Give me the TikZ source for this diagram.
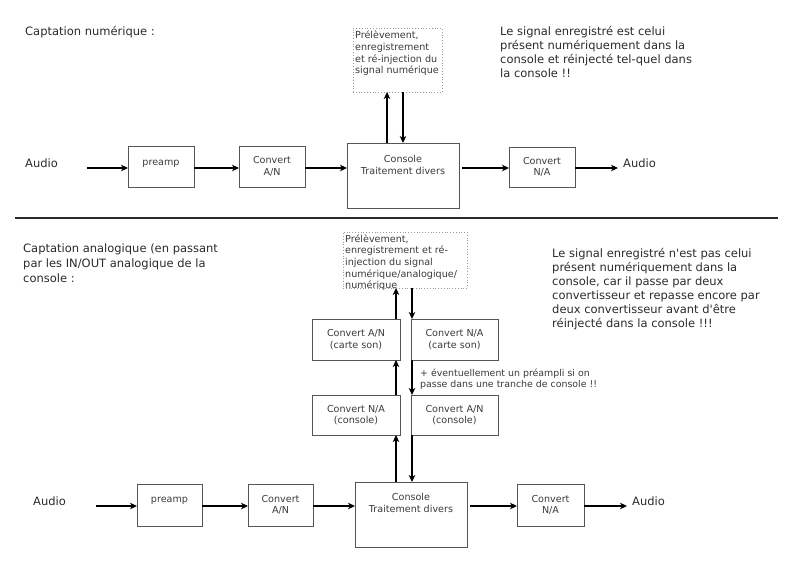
\documentclass[tikz,border=0pt]{standalone}
\usepackage{fontspec}
\setmainfont{DejaVu Sans}[Ligatures=TeXOff]
\usetikzlibrary{arrows.meta,calc}
\definecolor{boxgray}{HTML}{555555}
\definecolor{txtgray}{HTML}{3A3A3A}
\definecolor{txtdark}{HTML}{2A2A2A}
\definecolor{dotgray}{HTML}{9A9A9A}
\begin{document}
\begin{tikzpicture}[x=1pt,y=-1pt,
  box/.style={draw=boxgray, line width=0.9pt, inner sep=0pt, outer sep=0pt,
    font=\fontsize{9.6}{11.5}\selectfont, text=txtgray, align=center},
  dotbox/.style={draw=dotgray, dotted, line width=0.8pt, inner sep=0pt, outer sep=0pt},
  boxtxt/.style={font=\fontsize{9.6}{11.7}\selectfont, text=txtgray, inner sep=0pt},
  bigtxt/.style={font=\fontsize{11.5}{14}\selectfont, text=txtdark, align=left, inner sep=0pt, anchor=north west},
  arr/.style={-{Stealth[length=7pt,width=6.5pt,inset=2pt]}, line width=1.4pt, black},
  sepline/.style={line width=1.8pt, draw=txtdark}
]
\useasboundingbox (0,0) rectangle (800,566);

% ---------------- top section ----------------
\node[bigtxt] (t1) at (25,25.8) {Captation numérique :};
\node[bigtxt] (r1) at (500,25.8) {Le signal enregistré est celui\\présent numériquement dans la\\console et réinjecté tel-quel dans\\la console !!};

\node[dotbox, minimum width=89pt, minimum height=64pt] (rec1) at (397.5,60) {};
\node[boxtxt, align=left, anchor=north west] (rec1t) at (355,30.9) {Prélèvement,\\enregistrement\\et ré-injection du\\signal numérique};

\node[bigtxt, anchor=base west] (ain1) at (25,167) {Audio};
\coordinate (in1) at (87,168);
\node[box, minimum width=66pt, minimum height=41pt] (pre1) at (161,166.5) {};
\node[boxtxt, anchor=base] (pre1t) at (161,165) {preamp};
\node[box, minimum width=66pt, minimum height=41pt] (cana1) at (272,166.5) {Convert\\A/N};
\node[box, minimum width=112pt, minimum height=65pt] (cons1) at (403,175.5) {};
\node[boxtxt, align=center, anchor=north] (cons1t) at (403,155.4) {Console\\Traitement divers};
\node[box, minimum width=66pt, minimum height=40pt] (cna1) at (542,167) {Convert\\N/A};
\node[bigtxt, anchor=base west] (aout1) at (623,167) {Audio};

\draw[arr] (in1) -- (in1 -| pre1.west);
\draw[arr] (pre1.east |- in1) -- (cana1.west |- in1);
\draw[arr] (cana1.east |- in1) -- (cons1.west |- in1);
\draw[arr, shorten <=3pt] (cons1.east |- in1) -- (cna1.west |- in1);
\draw[arr] (cna1.east |- in1) -- ([xshift=-5pt]aout1.west |- in1);

\coordinate (xu1) at (387,0);
\coordinate (xd1) at (403,0);
\draw[arr] (cons1.north -| xu1) -- (rec1.south -| xu1);
\draw[arr] (rec1.south -| xd1) -- (cons1.north -| xd1);

% separator
\coordinate (s1) at (15,218);
\coordinate (s2) at (778,218);
\draw[sepline] (s1) -- (s2);

% ---------------- bottom section ----------------
\node[bigtxt, font=\fontsize{11.5}{15}\selectfont] (t2) at (23,243.3) {Captation analogique (en passant\\par les IN/OUT analogique de la\\console :};
\node[bigtxt] (r2) at (552,247.8) {Le signal enregistré n'est pas celui\\présent numériquement dans la\\console, car il passe par deux\\convertisseur et repasse encore par\\deux convertisseur avant d'être\\réinjecté dans la console !!!};

\node[dotbox, minimum width=124pt, minimum height=56pt] (rec2) at (405,260) {};
\node[boxtxt, align=left, anchor=north west] (rec2t) at (345,234.2) {Prélèvement,\\enregistrement et ré-\\injection du signal\\numérique/analogique/\\numérique};

\node[box, minimum width=88pt, minimum height=41pt] (csA) at (356,339.5) {Convert A/N\\(carte son)};
\node[box, minimum width=87pt, minimum height=41pt] (csN) at (454.5,339.5) {Convert N/A\\(carte son)};
\node[boxtxt, align=left, anchor=north west, font=\fontsize{9.4}{11}\selectfont] (note) at (420,368.4) {+ éventuellement un préampli si on\\passe dans une tranche de console !!};
\node[box, minimum width=88pt, minimum height=40pt] (ccN) at (356,415) {Convert N/A\\(console)};
\node[box, minimum width=87pt, minimum height=40pt] (ccA) at (454.5,415) {Convert A/N\\(console)};

\node[bigtxt, anchor=base west] (ain2) at (33,505) {Audio};
\coordinate (in2) at (96,506);
\node[box, minimum width=65pt, minimum height=42pt] (pre2) at (169.5,505) {};
\node[boxtxt, anchor=base] (pre2t) at (169.5,502.6) {preamp};
\node[box, minimum width=65pt, minimum height=42pt] (cana2) at (280.5,505) {Convert\\A/N};
\node[box, minimum width=112pt, minimum height=65pt] (cons2) at (411,514.5) {};
\node[boxtxt, align=center, anchor=north] (cons2t) at (411,492.8) {Console\\Traitement divers};
\node[box, minimum width=67pt, minimum height=42pt] (cna2) at (550.5,505) {Convert\\N/A};
\node[bigtxt, anchor=base west] (aout2) at (632,505) {Audio};

\draw[arr] (in2) -- (in2 -| pre2.west);
\draw[arr] (pre2.east |- in2) -- (cana2.west |- in2);
\draw[arr] (cana2.east |- in2) -- (cons2.west |- in2);
\draw[arr, shorten <=3pt] (cons2.east |- in2) -- (cna2.west |- in2);
\draw[arr] (cna2.east |- in2) -- ([xshift=-5pt]aout2.west |- in2);

\coordinate (xu2) at (396,0);
\coordinate (xd2) at (412,0);
\draw[arr] (cons2.north -| xu2) -- (ccN.south -| xu2);
\draw[arr] (ccA.south -| xd2) -- (cons2.north -| xd2);
\draw[arr] (ccN.north -| xu2) -- (csA.south -| xu2);
\draw[arr] (csN.south -| xd2) -- (ccA.north -| xd2);
\draw[arr] (csA.north -| xu2) -- (rec2.south -| xu2);
\draw[arr] (rec2.south -| xd2) -- (csN.north -| xd2);
\end{tikzpicture}
\end{document}
